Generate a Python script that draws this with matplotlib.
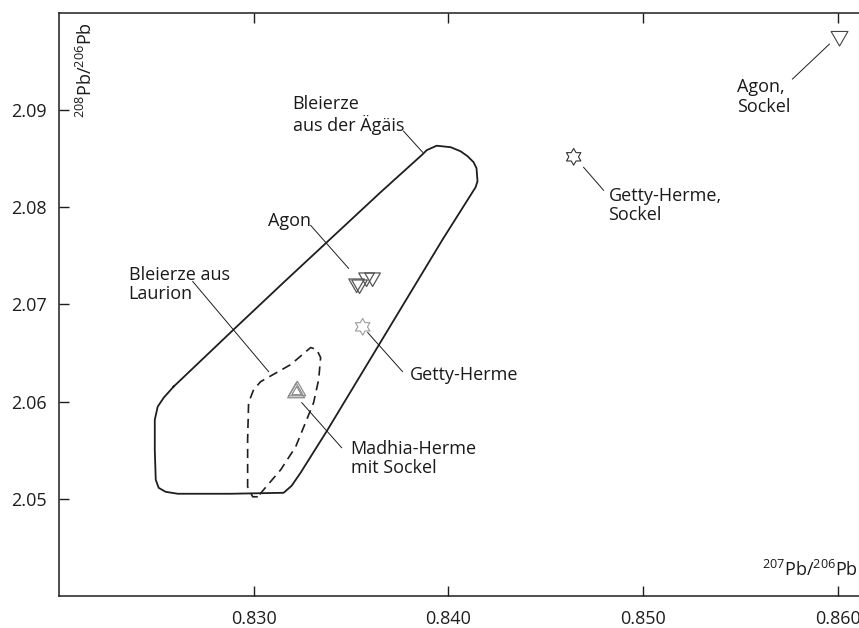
import numpy as np
import matplotlib
matplotlib.use("Agg")
import matplotlib.pyplot as plt
from matplotlib.path import Path

plt.rcParams['font.family'] = ['Open Sans', 'DejaVu Sans']
plt.rcParams['mathtext.fontset'] = 'custom'
plt.rcParams['mathtext.rm'] = 'Open Sans'
plt.rcParams['mathtext.default'] = 'regular'

# --- lead isotope data (207Pb/206Pb, 208Pb/206Pb) ---

# ore field: Bleierze aus der Aegaeis (outline)
aegaeis_x = [0.82589, 0.82538, 0.82507, 0.82492, 0.82492, 0.82497, 0.82512, 0.82548,
             0.82610, 0.82882, 0.83154, 0.83195, 0.83241, 0.83380, 0.83971, 0.84140,
             0.84150, 0.84145, 0.84130, 0.84099, 0.84063, 0.84012, 0.83940, 0.83889,
             0.83868, 0.83652, 0.83447, 0.83154, 0.82897, 0.82589]
aegaeis_y = [2.06155, 2.06041, 2.05948, 2.05814, 2.05505, 2.05196, 2.05113, 2.05072,
             2.05052, 2.05052, 2.05062, 2.05134, 2.05268, 2.05711, 2.07670, 2.08206,
             2.08268, 2.08402, 2.08464, 2.08526, 2.08577, 2.08619, 2.08634, 2.08588,
             2.08546, 2.08155, 2.07773, 2.07227, 2.06742, 2.06155]

# ore field: Bleierze aus Laurion (dashed outline)
laurion_x = [0.83021, 0.82995, 0.82969, 0.82969, 0.82974, 0.83000, 0.83036, 0.83072,
             0.83190, 0.83293, 0.83324, 0.83344, 0.83334, 0.83308, 0.83216, 0.83139,
             0.83051, 0.83021]
laurion_y = [2.05021, 2.05021, 2.05124, 2.05608, 2.05990, 2.06124, 2.06206, 2.06247,
             2.06381, 2.06557, 2.06536, 2.06454, 2.06227, 2.05990, 2.05536, 2.05299,
             2.05093, 2.05021]

# samples
agon_x = [0.83529, 0.83544, 0.83580, 0.83611]
agon_y = [2.07216, 2.07206, 2.07278, 2.07278]
agon_sockel_x = [0.86010]
agon_sockel_y = [2.09760]
getty_x = [0.83560]
getty_y = [2.06770]
getty_sockel_x = [0.84644]
getty_sockel_y = [2.08520]
madhia_x = [0.83218, 0.83224, 0.83221]
madhia_y = [2.06090, 2.06110, 2.06100]
madhia_sizes = [14, 14, 8]

x_ticks = [0.830, 0.840, 0.850, 0.860]
y_ticks = [2.05, 2.06, 2.07, 2.08, 2.09]

# labels: text, position, leader line (from, to)
labels = [
    ("Bleierze\naus der Ägäis", (0.83200, 2.08948), [(0.83770, 2.08784), (0.83868, 2.08567)]),
    ("Agon", (0.83072, 2.07856), [(0.83293, 2.07814), (0.83488, 2.07371)]),
    ("Bleierze aus\nLaurion", (0.82358, 2.07206), [(0.82687, 2.07237), (0.83077, 2.06309)]),
    ("Getty-Herme", (0.83801, 2.06278), [(0.83586, 2.06711), (0.83765, 2.06309)]),
    ("Madhia-Herme\nmit Sockel", (0.83498, 2.05412), [(0.83247, 2.05990), (0.83452, 2.05526)]),
    ("Getty-Herme,\nSockel", (0.84823, 2.08021), [(0.84695, 2.08412), (0.84798, 2.08175)]),
    ("Agon,\nSockel", (0.85481, 2.09134), [(0.85958, 2.09680), (0.85768, 2.09320)]),
]

# marker shapes
tri_down = Path([(-1, 0.577), (1, 0.577), (0, -1.155), (-1, 0.577)], closed=True)
tri_up = Path([(-1, -0.577), (1, -0.577), (0, 1.155), (-1, -0.577)], closed=True)
a_out = np.deg2rad(90 + 60 * np.arange(6))
a_in = a_out + np.deg2rad(30)
r_in = 1 / np.sqrt(3)
star_pts = []
for ao, ai in zip(a_out, a_in):
    star_pts.append((np.cos(ao), np.sin(ao)))
    star_pts.append((r_in * np.cos(ai), r_in * np.sin(ai)))
star_pts.append(star_pts[0])
hexagram = Path(star_pts, closed=True)

fig = plt.figure(figsize=(8.59, 6.28), dpi=100)
ax = fig.add_axes([0.0687, 0.0510, 0.9313, 0.9283])

ink = '#1e1e1e'

ax.plot(aegaeis_x, aegaeis_y, color=ink, lw=1.3, solid_joinstyle='round')
ax.plot(laurion_x, laurion_y, color=ink, lw=1.2, linestyle=(0, (5.5, 3.5)))

ax.scatter(agon_x, agon_y, marker=tri_down, s=13**2, facecolors='none',
           edgecolors='#555555', linewidths=0.9, zorder=3)
ax.scatter(agon_sockel_x, agon_sockel_y, marker=tri_down, s=14**2, facecolors='none',
           edgecolors='#444444', linewidths=0.8, zorder=3)
ax.scatter(getty_x, getty_y, marker=hexagram, s=12**2, facecolors='none',
           edgecolors='#9a9a9a', linewidths=0.8, zorder=3)
ax.scatter(getty_sockel_x, getty_sockel_y, marker=hexagram, s=12**2, facecolors='none',
           edgecolors='#333333', linewidths=0.8, zorder=3)
ax.scatter(madhia_x, madhia_y, marker=tri_up, s=np.array(madhia_sizes) ** 2, facecolors='none',
           edgecolors='#8a8a8a', linewidths=0.9, zorder=3)

for txt, (tx, ty), seg in labels:
    ax.text(tx, ty, txt, ha='left', va='center', fontsize=13, color='#1a1a1a',
            linespacing=1.1)
    (x0, y0), (x1, y1) = seg
    ax.plot([x0, x1], [y0, y1], color=ink, lw=0.7)

# axes styling
ax.set_xlim(0.8200, 0.8611)
ax.set_ylim(2.040, 2.100)
ax.set_xticks(x_ticks)
ax.set_xticklabels([f"{v:.3f}" for v in x_ticks])
ax.set_yticks(y_ticks)
ax.set_yticklabels([f"{v:.2f}" for v in y_ticks])
ax.tick_params(direction='in', length=7, width=1.0, colors=ink, labelsize=13,
               top=True, right=False, labeltop=False)
ax.tick_params(axis='x', pad=10)
ax.tick_params(axis='y', pad=9)
ax.spines['right'].set_visible(False)
for side in ['left', 'bottom', 'top']:
    ax.spines[side].set_color(ink)
    ax.spines[side].set_linewidth(1.1)

ax.text(0.034, 0.985, r'$^{208}$Pb/$^{206}$Pb', transform=ax.transAxes, rotation=90,
        ha='center', va='top', fontsize=13, color='#1a1a1a')
ax.text(0.999, 0.045, r'$^{207}$Pb/$^{206}$Pb', transform=ax.transAxes,
        ha='right', va='center', fontsize=13, color='#1a1a1a')

fig.savefig('out.png', dpi=100)
